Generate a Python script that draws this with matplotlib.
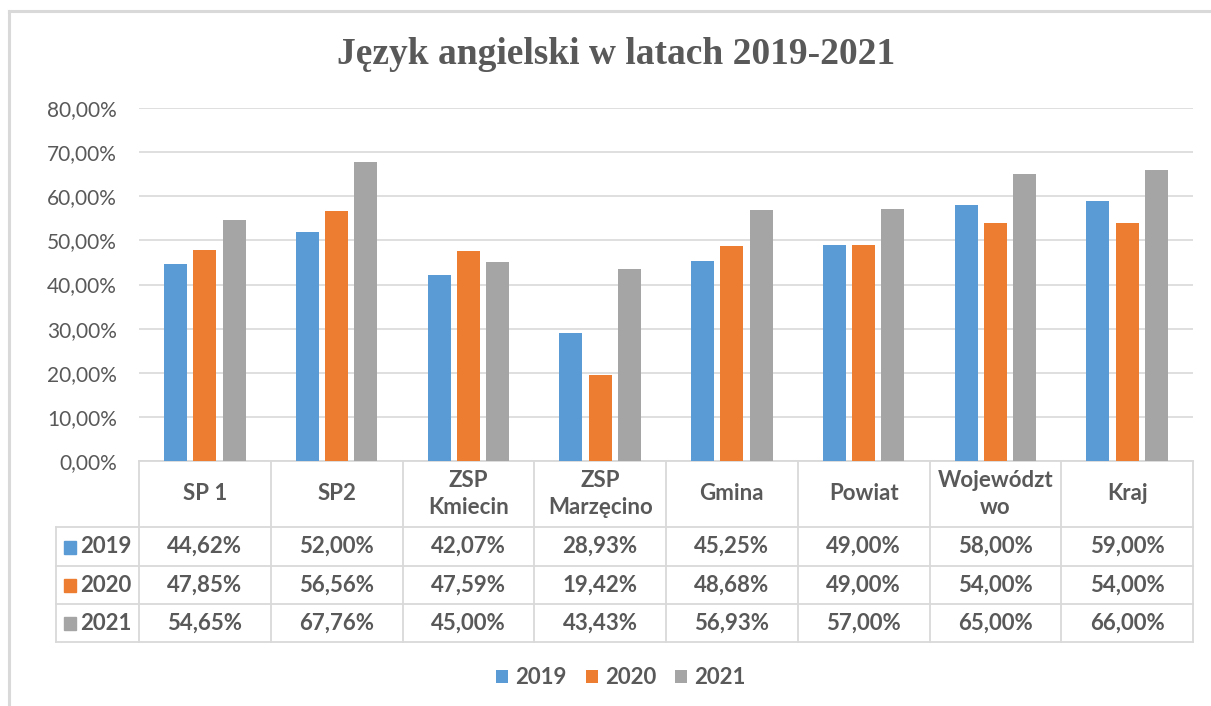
import numpy as np
import matplotlib
matplotlib.use("Agg")
import matplotlib.pyplot as plt
from matplotlib.patches import Patch, Rectangle
from matplotlib.lines import Line2D
from matplotlib.transforms import blended_transform_factory
from matplotlib.ticker import FuncFormatter

# --- data -------------------------------------------------------------
categories = ["SP 1", "SP2", "ZSP\nKmiecin", "ZSP\nMarzęcino", "Gmina",
              "Powiat", "Województ\nwo", "Kraj"]
years = ["2019", "2020", "2021"]
v2019 = [44.62, 52.00, 42.07, 28.93, 45.25, 49.00, 58.00, 59.00]
v2020 = [47.85, 56.56, 47.59, 19.42, 48.68, 49.00, 54.00, 54.00]
v2021 = [54.65, 67.76, 45.00, 43.43, 56.93, 57.00, 65.00, 66.00]
y_ticks = [0, 10, 20, 30, 40, 50, 60, 70, 80]

series = [v2019, v2020, v2021]
colors = ["#5B9BD5", "#ED7D31", "#A5A5A5"]
text_col = "#595959"
grid_col = "#D9D9D9"
ui_font = "Lato"
table_size = 16

W, H = 1211, 706
fig = plt.figure(figsize=(W / 100, H / 100), dpi=100)
fig.patch.set_facecolor("white")


def fx(px):
    return px / W


def fy(py):
    return 1 - py / H


# outer frame of the chart area
fig.add_artist(Line2D([fx(9), fx(9)], [fy(11), fy(H + 5)], color="#D9D9D9", lw=2.2))
fig.add_artist(Line2D([fx(9), fx(W + 5)], [fy(11), fy(11)], color="#D9D9D9", lw=2.2))

# plot area
left, right, top, bottom = 139, 1193, 108, 461
ax = fig.add_axes([fx(left), fy(bottom), fx(right - left), (bottom - top) / H])
n = len(categories)
x = np.arange(n)
bar_w = 0.175
step = 0.222
for i, (vals, c) in enumerate(zip(series, colors)):
    ax.bar(x + (i - 1) * step, np.array(vals) / 100, width=bar_w, color=c, zorder=3)

ax.set_xlim(-0.5, n - 0.5)
ax.set_ylim(0, 0.8)
ax.set_yticks(np.array(y_ticks) / 100)
ax.yaxis.set_major_formatter(FuncFormatter(lambda v, _: f"{v * 100:.2f}%".replace(".", ",")))
ax.tick_params(axis="y", length=0, pad=16, labelsize=15, labelcolor=text_col)
for lbl in ax.get_yticklabels():
    lbl.set_fontfamily(ui_font)
ax.set_xticks([])
ax.grid(axis="y", color=grid_col, lw=1.2, zorder=0)
for s in ["top", "right", "left"]:
    ax.spines[s].set_visible(False)
ax.spines["bottom"].set_color(grid_col)
ax.spines["bottom"].set_linewidth(1.3)

# --- data table under the axis ----------------------------------------
tr = blended_transform_factory(ax.transData, fig.transFigure)
line_kw = dict(color="#D9D9D9", lw=1.3, clip_on=False)
row_lines = [527, 566, 604, 642]
label_left = 56

# vertical column borders
for k in range(n + 1):
    xe = k - 0.5
    fig.add_artist(Line2D([xe, xe], [fy(bottom), fy(row_lines[-1])], transform=tr, **line_kw))
fig.add_artist(Line2D([fx(label_left), fx(label_left)], [fy(row_lines[0]), fy(row_lines[-1])], **line_kw))
# horizontal row borders
for ry in row_lines:
    fig.add_artist(Line2D([fx(label_left), fx(right)], [fy(ry), fy(ry)], **line_kw))

# header: category names
header_mid = (bottom + row_lines[0]) / 2
for i, cat in enumerate(categories):
    fig.text(x[i], fy(header_mid), cat, transform=tr, ha="center", va="center",
             fontsize=table_size, color=text_col, fontfamily=ui_font, fontweight="bold",
             linespacing=1.4)

# body rows: key swatch, year, values
for r, (yr, vals, c) in enumerate(zip(years, series, colors)):
    mid = (row_lines[r] + row_lines[r + 1]) / 2
    fig.add_artist(Rectangle((fx(64), fy(mid + 7)), fx(12), 13 / H, color=c))
    fig.text(fx(80), fy(mid), yr, ha="left", va="center", fontsize=table_size,
             color=text_col, fontfamily=ui_font, fontweight="bold")
    for i, v in enumerate(vals):
        fig.text(x[i], fy(mid), f"{v:.2f}%".replace(".", ","), transform=tr,
                 ha="center", va="center", fontsize=table_size, color=text_col,
                 fontfamily=ui_font, fontweight="bold")

# --- title ---------------------------------------------------------------
fig.text(fx(616), fy(55), "Język angielski w latach 2019-2021", ha="center", va="center",
         fontsize=27, fontweight="bold", color=text_col, fontfamily="Liberation Serif")

# --- legend -------------------------------------------------------------
handles = [Patch(facecolor=c, label=y) for y, c in zip(years, colors)]
leg = fig.legend(handles=handles, loc="center", bbox_to_anchor=(fx(621), fy(678)),
                 ncol=3, frameon=False, handlelength=0.55, handleheight=0.55,
                 handletextpad=0.32, columnspacing=0.85,
                 prop={"family": ui_font, "size": table_size, "weight": "bold"})
for t in leg.get_texts():
    t.set_color(text_col)
    t.set_fontweight("bold")

fig.savefig("out.png", dpi=100)
